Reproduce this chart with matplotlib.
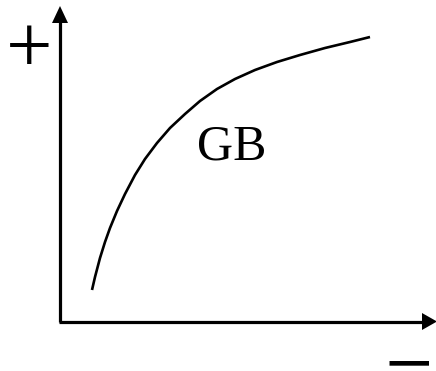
import matplotlib
matplotlib.use("Agg")
import matplotlib.pyplot as plt

# Curve (pixel-space coordinates, y downward)
curve_x = [92, 95, 100, 105, 110, 117, 125, 135, 145, 157, 170, 185, 200, 217, 235, 255, 277, 300, 325, 350, 370]
curve_y = [290, 277, 258, 242, 228, 211, 194, 175, 159, 143, 128, 114, 101, 89, 79, 70, 62, 55, 48, 42, 37]

label_curve = "GB"
label_plus = r"$+$"
label_minus = r"$-$"

plt.rcParams["mathtext.fontset"] = "stix"

fig = plt.figure(figsize=(4.36, 3.71), dpi=100)
ax = fig.add_axes([0, 0, 1, 1])
ax.set_xlim(0, 436)
ax.set_ylim(371, 0)
ax.axis("off")

serif = ["Liberation Serif", "DejaVu Serif"]

# axes with arrows
ax.plot([60, 60], [321.5, 20], color="black", lw=2.3, solid_capstyle="butt")
ax.plot([58.9, 425], [321.5, 321.5], color="black", lw=2.3, solid_capstyle="butt")
ax.fill([52, 68, 60], [23, 23, 6], color="black", lw=0)
ax.fill([422, 422, 437], [313, 330, 321.5], color="black", lw=0)

# curve
ax.plot(curve_x, curve_y, color="black", lw=1.9, solid_capstyle="butt",
        solid_joinstyle="round")

ax.text(231.5, 159, label_curve, family=serif, fontsize=36, ha="center", va="baseline")
ax.text(28, 42.5, label_plus, fontsize=47, ha="center", va="center")
ax.text(407, 360, label_minus, fontsize=51, ha="center", va="center")

fig.savefig("out.png", dpi=100)
